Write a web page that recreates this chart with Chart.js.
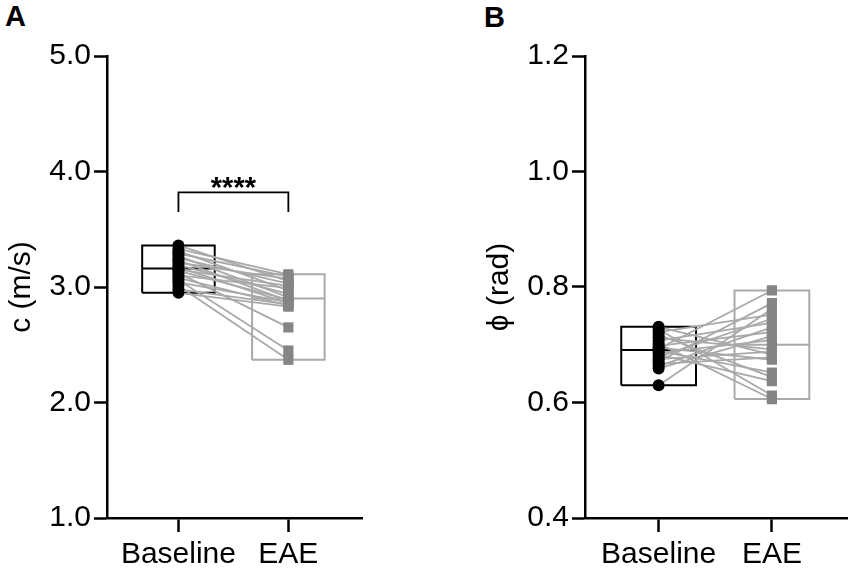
<!DOCTYPE html>
<html>
<head>
<meta charset="utf-8">
<script src="https://cdn.jsdelivr.net/npm/chart.js@4.4.1/dist/chart.umd.min.js"></script>
<style>
  body { margin: 0; background: #fff; width: 855px; height: 569px; position: relative; overflow: hidden;
         font-family: "Liberation Sans", Arial, sans-serif; }
  .panel { position: absolute; top: 0; }
  .letter { position: absolute; font-weight: bold; font-size: 29px; line-height: 29px; color: #000; }
</style>
</head>
<body>
<div class="letter" style="left:5px;top:2px">A</div>
<div class="letter" style="left:484px;top:3px">B</div>
<canvas id="chartA" class="panel" width="370" height="569" style="left:0"></canvas>
<canvas id="chartB" class="panel" width="377" height="569" style="left:478px"></canvas>
<script>
// groups on the x axis
const groups = ['Baseline', 'EAE'];

// panel A : c (m/s), one value per animal, same order in both arrays
const speedBaseline = [3.36, 3.33, 3.31, 3.29, 3.27, 3.25, 3.23, 3.21, 3.19, 3.17,
                       3.15, 3.14, 3.12, 3.10, 3.08, 3.06, 3.04, 3.01, 2.98, 2.95];
const speedEAE      = [3.05, 3.11, 2.97, 3.09, 2.91, 3.03, 2.88, 3.07, 2.94, 2.86,
                       3.01, 2.89, 2.65, 2.99, 2.84, 2.45, 2.87, 2.37, 2.85, 2.83];
const speedTicks = [1.0, 2.0, 3.0, 4.0, 5.0];
const speedBracket = [3.65, 3.82];   // significance bracket (foot, top)
const speedStars = '****';

// panel B : phi (rad)
const phaseBaseline = [0.731, 0.727, 0.722, 0.717, 0.712, 0.707, 0.702, 0.698, 0.695, 0.693,
                       0.689, 0.686, 0.683, 0.679, 0.675, 0.671, 0.667, 0.663, 0.659, 0.630];
const phaseEAE      = [0.683, 0.612, 0.752, 0.644, 0.692, 0.738, 0.606, 0.722, 0.674, 0.794,
                       0.652, 0.708, 0.637, 0.745, 0.688, 0.772, 0.678, 0.730, 0.715, 0.762];
const phaseTicks = [0.4, 0.6, 0.8, 1.0, 1.2];

const BOX_HALF = 0.33;
const GREY_LINE = '#a9a9a9';
const GREY_POINT = '#858585';

function median(arr) {
    const s = [...arr].sort((a, b) => a - b);
    const m = s.length / 2;
    return s.length % 2 ? s[Math.floor(m)] : (s[m - 1] + s[m]) / 2;
}

function boxDatasets(values, xc, color) {
    const lo = Math.min(...values), hi = Math.max(...values), med = median(values);
    const common = { showLine: true, pointRadius: 0, borderColor: color, borderWidth: 2, tension: 0, order: 3 };
    return [
        { ...common, data: [
            { x: xc - BOX_HALF, y: lo }, { x: xc + BOX_HALF, y: lo },
            { x: xc + BOX_HALF, y: hi }, { x: xc - BOX_HALF, y: hi },
            { x: xc - BOX_HALF, y: lo }] },
        { ...common, data: [{ x: xc - BOX_HALF, y: med }, { x: xc + BOX_HALF, y: med }] }
    ];
}

const starPlugin = {
    id: 'stars',
    afterDatasetsDraw(chart, args, opts) {
        if (!opts.text) return;
        const { ctx, scales } = chart;
        ctx.save();
        ctx.fillStyle = '#000';
        ctx.font = 'bold 29px "Liberation Sans", Arial, sans-serif';
        ctx.textAlign = 'center';
        ctx.textBaseline = 'alphabetic';
        ctx.fillText(opts.text, scales.x.getPixelForValue(0.5), scales.y.getPixelForValue(opts.y) + 5);
        ctx.restore();
    }
};

function makeChart(id, base, eae, ticks, title, padRight, bracket, stars) {
    const datasets = [];
    datasets.push({ data: base.map(v => ({ x: 0, y: v })), pointStyle: 'circle', pointRadius: 6,
                    backgroundColor: '#000', borderColor: '#000', borderWidth: 0, order: 0 });
    datasets.push({ data: eae.map(v => ({ x: 1, y: v })), pointStyle: 'rect', pointRadius: 7.2,
                    backgroundColor: GREY_POINT, borderColor: GREY_POINT, borderWidth: 0, order: 0 });
    base.forEach((v, i) => {
        datasets.push({ data: [{ x: 0, y: v }, { x: 1, y: eae[i] }], showLine: true, pointRadius: 0,
                        borderColor: GREY_LINE, borderWidth: 1.8, order: 1 });
    });
    datasets.push(...boxDatasets(base, 0, '#000'));
    datasets.push(...boxDatasets(eae, 1, GREY_LINE));
    if (bracket) {
        datasets.push({ data: [{ x: 0, y: bracket[0] }, { x: 0, y: bracket[1] }, { x: 1, y: bracket[1] }, { x: 1, y: bracket[0] }],
                        showLine: true, pointRadius: 0, borderColor: '#000', borderWidth: 1.8, order: 2 });
    }

    const ctx = document.getElementById(id).getContext('2d');
    new Chart(ctx, {
        type: 'scatter',
        data: { datasets },
        options: {
            responsive: false,
            animation: false,
            layout: { padding: { top: 56, right: padRight, left: 0, bottom: 0 } },
            plugins: {
                legend: { display: false },
                tooltip: { enabled: false },
                stars: { text: stars, y: bracket ? bracket[1] : 0 }
            },
            scales: {
                x: {
                    type: 'linear', min: -0.65, max: 1.67,
                    afterBuildTicks: s => { s.ticks = [{ value: 0 }, { value: 1 }]; },
                    afterFit: s => { s.height = 51; },
                    ticks: { callback: (v, i) => groups[i], color: '#000', padding: 5, maxRotation: 0, autoSkip: false,
                             font: { size: 30, family: '"Liberation Sans", Arial, sans-serif' } },
                    grid: { drawOnChartArea: false, tickLength: 14, tickWidth: 2.5, color: '#000' },
                    border: { color: '#000', width: 2.5 }
                },
                y: {
                    min: ticks[0], max: ticks[ticks.length - 1],
                    afterBuildTicks: s => { s.ticks = ticks.map(v => ({ value: v })); },
                    afterFit: s => { s.width = 107; },
                    ticks: { callback: v => v.toFixed(1), color: '#000', padding: 3,
                             font: { size: 30, family: '"Liberation Sans", Arial, sans-serif' } },
                    grid: { drawOnChartArea: false, tickLength: 13, tickWidth: 2.5, color: '#000' },
                    border: { color: '#000', width: 2.5 },
                    title: { display: true, text: title, color: '#000', padding: { top: 4, bottom: 0 },
                             font: { size: 30, family: '"Liberation Sans", Arial, sans-serif' } }
                }
            }
        },
        plugins: [starPlugin]
    });
}

makeChart('chartA', speedBaseline, speedEAE, speedTicks, 'c (m/s)', 8, speedBracket, speedStars);
makeChart('chartB', phaseBaseline, phaseEAE, phaseTicks, 'ϕ (rad)', 5, null, '');
</script>
</body>
</html>
